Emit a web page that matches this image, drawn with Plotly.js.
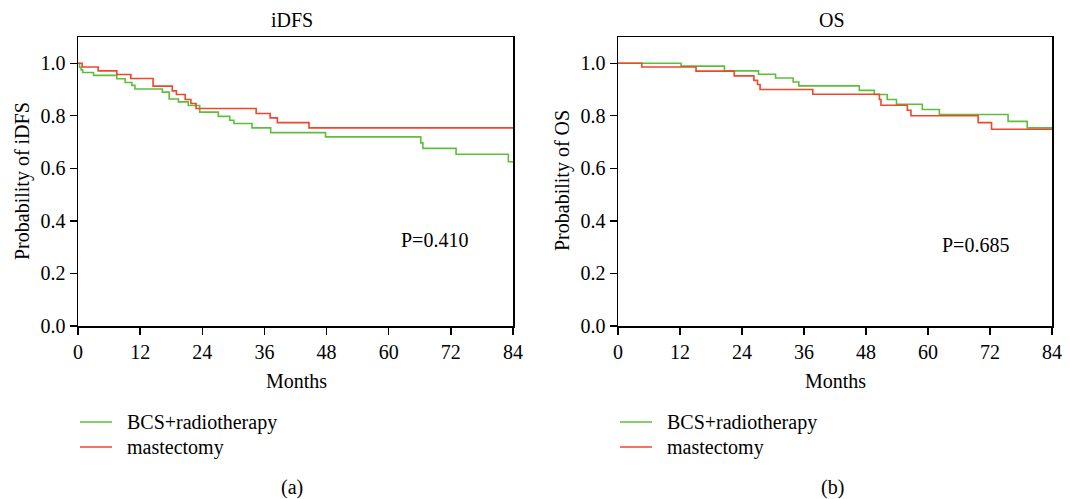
<!DOCTYPE html>
<html>
<head>
<meta charset="utf-8">
<script src="https://cdn.plot.ly/plotly-3.0.1.min.js"></script>
<style>html,body{margin:0;padding:0;background:#fff;}#chart{width:1070px;height:499px;}</style>
</head>
<body>
<div id="chart"></div>
<script>
// ---- data ----
const groupNames = ["BCS+radiotherapy", "mastectomy"];
const xTicks = [0, 12, 24, 36, 48, 60, 72, 84];
const yTicks = [0.0, 0.2, 0.4, 0.6, 0.8, 1.0];
const yTickLabels = ["0.0", "0.2", "0.4", "0.6", "0.8", "1.0"];

// iDFS
const idfsBcsTime = [0, 0.3, 0.6, 0.9, 3.0, 7.5, 9.1, 10.4, 11.0, 16.3, 17.6, 19.4, 21.3, 23.5, 27.1, 29.3, 30.1, 33.6, 37.2, 47.8, 66.2, 66.6, 73.0, 83.1, 84];
const idfsBcsSurv = [1.0, 0.985, 0.975, 0.965, 0.954, 0.941, 0.927, 0.916, 0.902, 0.890, 0.864, 0.853, 0.839, 0.814, 0.798, 0.783, 0.771, 0.754, 0.736, 0.720, 0.697, 0.676, 0.654, 0.625, 0.625];
const idfsMasTime = [0, 0.8, 3.9, 7.5, 10.2, 14.5, 18.2, 19.0, 20.7, 21.8, 22.8, 34.4, 37.1, 38.5, 44.6, 84];
const idfsMasSurv = [1.0, 0.986, 0.971, 0.957, 0.942, 0.913, 0.895, 0.881, 0.862, 0.847, 0.828, 0.809, 0.792, 0.774, 0.754, 0.754];

// OS
const osBcsTime = [0, 12.2, 20.6, 27.2, 30.5, 33.9, 35.0, 46.7, 49.6, 52.1, 53.9, 58.9, 62.2, 75.5, 79.2, 84];
const osBcsSurv = [1.0, 0.989, 0.971, 0.958, 0.944, 0.929, 0.914, 0.897, 0.881, 0.862, 0.844, 0.824, 0.805, 0.779, 0.754, 0.754];
const osMasTime = [0, 4.6, 15.1, 22.5, 26.3, 27.0, 27.5, 37.7, 50.6, 50.9, 56.0, 56.7, 69.7, 72.3, 84];
const osMasSurv = [1.0, 0.986, 0.970, 0.952, 0.935, 0.919, 0.900, 0.882, 0.862, 0.840, 0.821, 0.800, 0.774, 0.749, 0.749];

const panelTitles = ["iDFS", "OS"];
const yTitles = ["Probability of iDFS", "Probability of OS"];
const xTitle = "Months";
const pValues = ["P=0.410", "P=0.685"];
const panelLabels = ["(a)", "(b)"];

// ---- styling ----
const W = 1070, H = 499;
const FONT = "Liberation Serif, Times New Roman, serif";
const FS = 20;
const GREEN = "#5cbf3c", RED = "#f0462a";
const COLORS = [GREEN, RED];
const pxX = p => p / W;
const pxY = p => (H - p) / H;
const domA = [pxX(78), pxX(513)];
const domB = [pxX(618), pxX(1052)];
const domY = [pxY(326), pxY(37)];

function curve(t, s, name, color, xa, ya) {
  return {x: t, y: s, type: "scatter", mode: "lines", line: {shape: "hv", color: color, width: 1.6},
          name: name, xaxis: xa, yaxis: ya, showlegend: false, hoverinfo: "skip"};
}
const traces = [
  curve(idfsBcsTime, idfsBcsSurv, groupNames[0], GREEN, "x", "y"),
  curve(idfsMasTime, idfsMasSurv, groupNames[1], RED, "x", "y"),
  curve(osBcsTime, osBcsSurv, groupNames[0], GREEN, "x2", "y2"),
  curve(osMasTime, osMasSurv, groupNames[1], RED, "x2", "y2")
];

function xaxis(dom, anchor) {
  return {domain: dom, anchor: anchor, range: [0, 84], tickvals: xTicks, ticks: "outside", ticklen: 7,
          tickwidth: 1.3, tickcolor: "#000", showline: true, linecolor: "#000", linewidth: 1.5, mirror: true,
          showgrid: false, zeroline: false, tickfont: {family: FONT, size: FS, color: "#000"}, fixedrange: true};
}
function yaxis(anchor) {
  return {domain: domY, anchor: anchor, range: [0, 1.1], tickvals: yTicks, ticktext: yTickLabels, ticks: "outside",
          ticklen: 7, tickwidth: 1.3, tickcolor: "#000", showline: true, linecolor: "#000", linewidth: 1.5,
          mirror: true, showgrid: false, zeroline: false, tickfont: {family: FONT, size: FS, color: "#000"},
          fixedrange: true};
}

function ann(text, x, y, extra) {
  return Object.assign({text: text, x: x, y: y, xref: "paper", yref: "paper", showarrow: false,
                        xanchor: "center", yanchor: "middle",
                        font: {family: FONT, size: FS, color: "#000"}}, extra || {});
}
const annotations = [
  ann(panelTitles[0], pxX(292), pxY(20)),
  ann(panelTitles[1], pxX(832), pxY(20)),
  ann(xTitle, pxX(296), pxY(381)),
  ann(xTitle, pxX(835), pxY(381)),
  ann(yTitles[0], pxX(22), pxY(181), {textangle: -90}),
  ann(yTitles[1], pxX(562), pxY(181), {textangle: -90}),
  ann(pValues[0], pxX(434), pxY(240)),
  ann(pValues[1], pxX(975), pxY(245)),
  ann(panelLabels[0], pxX(292), pxY(487)),
  ann(panelLabels[1], pxX(832), pxY(487))
];

// manual legends (one per panel)
const shapes = [];
const legendX = [80, 620];
const legendRowY = [422, 447];
legendX.forEach(lx => {
  groupNames.forEach((g, i) => {
    shapes.push({type: "line", xref: "paper", yref: "paper", x0: pxX(lx), x1: pxX(lx + 32),
                 y0: pxY(legendRowY[i]), y1: pxY(legendRowY[i]), line: {color: COLORS[i], width: 1.5}});
    annotations.push(ann(g, pxX(lx + 45), pxY(legendRowY[i]), {xanchor: "left"}));
  });
});

const layout = {
  width: W, height: H, margin: {l: 0, r: 0, t: 0, b: 0}, paper_bgcolor: "#fff", plot_bgcolor: "#fff",
  showlegend: false,
  xaxis: xaxis(domA, "y"), yaxis: yaxis("x"),
  xaxis2: xaxis(domB, "y2"), yaxis2: yaxis("x2"),
  annotations: annotations, shapes: shapes
};

Plotly.newPlot("chart", traces, layout, {staticPlot: true, displayModeBar: false});
</script>
</body>
</html>
